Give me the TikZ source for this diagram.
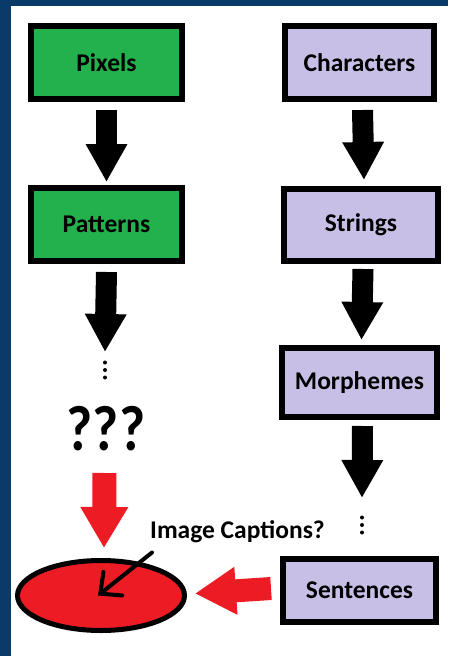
\documentclass[tikz,border=0pt]{standalone}
\usepackage{fontspec}
\setmainfont{Carlito}
\usetikzlibrary{arrows.meta,shapes.geometric}
\definecolor{frameblue}{HTML}{0A3A67}
\definecolor{boxgreen}{HTML}{22B14C}
\definecolor{boxlilac}{HTML}{C8BFE7}
\definecolor{paintred}{HTML}{ED1C24}
\begin{document}
\begin{tikzpicture}[x=1pt,y=-1pt,
  box/.style={draw=black, line width=6pt, inner sep=0pt, font=\fontsize{25.5}{28}\bfseries\selectfont},
  greenbox/.style={box, fill=boxgreen, minimum width=151pt, minimum height=73pt},
  lilacbox/.style={box, fill=boxlilac, minimum height=72pt},
  blockarrow/.style={line width=21pt, -{Triangle[length=38pt,width=39pt]}},
  redarrow/.style={paintred, line width=24pt, -{Triangle[length=41pt,width=45pt]}},
  pointer/.style={line width=4pt, line cap=round, line join=round,
    -{Straight Barb[length=16pt,width=30pt,line cap=round]}},
  dot/.style={fill=black}
]
% frame and canvas
\fill[frameblue] (0,0) rectangle (448,656);
\fill[white] (11,6) rectangle (448,656);
\useasboundingbox (0,0) rectangle (448,656);

% left column
\node[greenbox] (pix) at (106.5,62.5) {Pixels};
\node[greenbox] (pat) at (106.5,224.5) {Patterns};
\coordinate (dl) at (105,370);
\fill[dot] (dl) ++(0,-7.5) circle (2);
\fill[dot] (dl) circle (2);
\fill[dot] (dl) ++(0,7.5) circle (2);
\node[font=\fontsize{64}{64}\bfseries\selectfont, inner sep=0pt] (qq) at (106,429) {\scalebox{0.88}[1]{???}};

% right column
\node[lilacbox, minimum width=149pt, minimum height=73pt] (chr) at (359.5,62.5) {Characters};
\node[lilacbox, minimum width=154pt] (str) at (361,225) {Strings};
\node[lilacbox, minimum width=155pt, minimum height=69pt] (mor) at (359.5,382.5) {Morphemes};
\coordinate (dr) at (362,525);
\fill[dot] (dr) ++(0,-7.5) circle (2);
\fill[dot] (dr) circle (2);
\fill[dot] (dr) ++(0,7.5) circle (2);
\node[lilacbox, minimum width=153pt, minimum height=63pt] (sen) at (359.5,590.5) {Sentences};

% target ellipse
\node[draw=black, line width=5pt, fill=paintred, ellipse, minimum width=167pt, minimum height=70pt, inner sep=0pt] (ell) at (101,595.5) {};

% black flow arrows
\draw[blockarrow] ([yshift=-8pt]pix.south) -- ([yshift=3pt]pat.north);
\draw[blockarrow] ([yshift=-8pt]pat.south) -- ([yshift=18pt]dl);
\draw[blockarrow] ([xshift=3pt,yshift=-8pt]chr.south) -- ([xshift=3pt,yshift=6pt]str.north);
\draw[blockarrow] ([xshift=2pt,yshift=-5pt]str.south) -- ([xshift=2pt,yshift=5pt]mor.north);
\draw[blockarrow] ([xshift=3pt,yshift=-6pt]mor.south) -- ([yshift=27pt]dr);

% red arrows into the ellipse
\draw[redarrow] ([xshift=-1.5pt]qq.south |- 0,473) -- ([xshift=3pt,yshift=10pt]ell.north);
\draw[redarrow, line width=23pt] ([xshift=-9pt,yshift=2pt]sen.west) -- ([xshift=8pt,yshift=2pt]ell.east);

% caption label with hand-drawn pointer
\node[font=\fontsize{25.5}{28}\bfseries\selectfont, anchor=base west, inner sep=0pt] (cap) at (150,538) {Image Captions?};
\draw[pointer] ([xshift=2pt,yshift=-10pt]cap.south west) -- ([xshift=-3pt]ell.center);
\end{tikzpicture}
\end{document}
